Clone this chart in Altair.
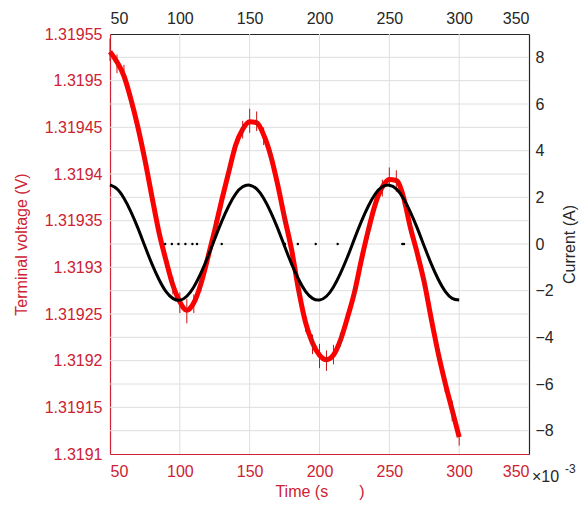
import altair as alt
import pandas as pd

# ---------------- data ----------------
time_ms = list(range(50, 301, 5))

voltage = [1.319531, 1.319520, 1.319505, 1.319480, 1.319450, 1.319415, 1.319376, 1.319338, 1.319308, 1.319281,
           1.319263, 1.319254, 1.319262, 1.319282, 1.319310, 1.319340, 1.319372, 1.319402, 1.319431, 1.319448,
           1.319456, 1.319455, 1.319442, 1.319420, 1.319389, 1.319353, 1.319319, 1.319276, 1.319241, 1.319219,
           1.319206, 1.319201, 1.319206, 1.319222, 1.319246, 1.319273, 1.319308, 1.319340, 1.319368, 1.319386,
           1.319394, 1.319393, 1.319376, 1.319343, 1.319315, 1.319284, 1.319245, 1.319208, 1.319176, 1.319147,
           1.319118]

current = [2.53, 2.36, 1.96, 1.38, 0.68, -0.10, -0.85, -1.51, -2.03, -2.33,
           -2.41, -2.24, -1.84, -1.26, -0.56, 0.22, 0.97, 1.63, 2.15, 2.45,
           2.52, 2.36, 1.96, 1.38, 0.68, -0.10, -0.85, -1.51, -2.03, -2.33,
           -2.40, -2.24, -1.84, -1.26, -0.56, 0.22, 0.97, 1.63, 2.15, 2.45,
           2.52, 2.36, 1.96, 1.38, 0.68, -0.10, -0.85, -1.51, -2.03, -2.33,
           -2.40]

# noise spikes above / below the voltage trace (micro-volts)
spike_up = [14, 8, 12, 6, 5, 9, 4, 6, 5, 8, 10, 12, 9, 7, 6, 10, 5, 7, 6, 9,
            14, 12, 8, 6, 5, 7, 6, 8, 5, 9, 12, 10, 11, 8, 6, 7, 9, 5, 6, 8,
            13, 11, 7, 6, 5, 8, 6, 9, 7, 10, 6]
spike_dn = [10, 12, 6, 8, 7, 5, 9, 6, 8, 10, 12, 14, 11, 8, 7, 5, 9, 6, 8, 10,
            12, 9, 11, 7, 6, 8, 9, 7, 10, 12, 14, 12, 10, 7, 8, 6, 5, 9, 7, 10,
            8, 12, 9, 7, 8, 6, 9, 8, 10, 12, 9]

dot_time = [89.5, 94.3, 99.0, 104.0, 109.0, 112.3, 130.0, 175.3, 184.5, 197.3, 213.0, 259.3, 260.5]
dot_current = [0] * len(dot_time)

x_ticks = [50, 100, 150, 200, 250, 300, 350]
v_grid = [round(1.3191 + k * 0.000025, 7) for k in range(19)]
i_ticks = [-8, -6, -4, -2, 0, 2, 4, 6, 8]

# ---------------- frames ----------------
df = pd.DataFrame({"t": time_ms, "v": voltage, "i": current, "up": spike_up, "dn": spike_dn})
df["lo"] = df["v"] - df["dn"] * 1e-6
df["hi"] = df["v"] + df["up"] * 1e-6
dots = pd.DataFrame({"t": dot_time, "i": dot_current})
xgrid_df = pd.DataFrame({"t": x_ticks[1:-1]})
vgrid_df = pd.DataFrame({"v": v_grid[1:-1]})

RED_TXT = "#cc2233"
BLK_TXT = "#262626"
GRID = "#dedede"
FONT = "Liberation Sans"

xs = alt.Scale(domain=[50, 350], nice=False, zero=False)
vs = alt.Scale(domain=[1.3191, 1.31955], nice=False, zero=False)
cs = alt.Scale(domain=[-9, 9], nice=False, zero=False)

bottom_axis = alt.Axis(orient="bottom", values=x_ticks, title="Time (s\u00a0\u00a0\u00a0\u00a0\u00a0\u00a0\u00a0)",
                       labelColor=RED_TXT, titleColor=RED_TXT, domainColor=RED_TXT, domainWidth=1.2, ticks=False,
                       grid=False, labelPadding=9, titlePadding=4,
                       labelFontSize=16, titleFontSize=16, titleFontWeight="normal", labelFont=FONT, titleFont=FONT)
top_axis = alt.Axis(orient="top", values=x_ticks, title=None, labelColor=BLK_TXT, domainColor="#262626",
                    domainWidth=1.2, ticks=False, grid=False, labelPadding=8, labelFontSize=16, labelFont=FONT)
left_axis = alt.Axis(orient="left", values=v_grid, title="Terminal voltage (V)",
                     labelExpr="abs(round(datum.value*1e6) % 50) < 1 ? format(datum.value, '.5~f') : ''",
                     labelColor=RED_TXT, titleColor=RED_TXT, domainColor=RED_TXT, domainWidth=1.2, ticks=False,
                     grid=False, labelPadding=8, titlePadding=15, labelOverlap=False,
                     labelFontSize=16, titleFontSize=16, titleFontWeight="normal", labelFont=FONT, titleFont=FONT)
right_axis = alt.Axis(orient="right", values=i_ticks, title="Current (A)", titleAngle=270,
                      labelColor=BLK_TXT, titleColor=BLK_TXT, domainColor="#262626", domainWidth=1.2,
                      ticks=False, grid=False,
                      labelPadding=6, titlePadding=24, labelFontSize=16, titleFontSize=16,
                      titleFontWeight="normal", labelFont=FONT, titleFont=FONT)

xgrid = alt.Chart(xgrid_df).mark_rule(color=GRID, strokeWidth=1).encode(
    x=alt.X("t:Q", scale=xs, axis=bottom_axis),
)
vgrid = alt.Chart(vgrid_df).mark_rule(color=GRID, strokeWidth=1).encode(
    y=alt.Y("v:Q", scale=vs, axis=left_axis),
)
volt_line = alt.Chart(df).mark_line(color="#ff0000", strokeWidth=5, interpolate="monotone").encode(
    x=alt.X("t:Q", scale=xs, axis=bottom_axis),
    y=alt.Y("v:Q", scale=vs, axis=left_axis),
)
spikes = alt.Chart(df).mark_rule(color="#c81414", strokeWidth=1).encode(
    x=alt.X("t:Q", scale=xs, axis=bottom_axis),
    y=alt.Y("lo:Q", scale=vs, axis=left_axis),
    y2="hi:Q",
)
volt = alt.layer(xgrid, vgrid, volt_line, spikes)

cur_line = alt.Chart(df).mark_line(color="#000000", strokeWidth=3, interpolate="natural").encode(
    x=alt.X("t:Q", scale=xs, axis=top_axis),
    y=alt.Y("i:Q", scale=cs, axis=right_axis),
)
cur_dots = alt.Chart(dots).mark_point(filled=True, color="#000000", size=6, opacity=1).encode(
    x=alt.X("t:Q", scale=xs, axis=top_axis),
    y=alt.Y("i:Q", scale=cs, axis=right_axis),
)
cur = alt.layer(cur_line, cur_dots)

exp_base = alt.Chart(pd.DataFrame({"s": ["\u00d710"]})).mark_text(
    align="left", baseline="middle", fontSize=16, font=FONT, color=BLK_TXT
).encode(x=alt.value(422), y=alt.value(443), text="s:N")
exp_pow = alt.Chart(pd.DataFrame({"s": ["-3"]})).mark_text(
    align="left", baseline="middle", fontSize=12, font=FONT, color=BLK_TXT
).encode(x=alt.value(455), y=alt.value(435), text="s:N")

chart = alt.layer(volt, cur, exp_base, exp_pow).resolve_scale(y="independent").resolve_axis(
    x="independent", y="independent"
).properties(
    width=419, height=420,
    autosize=alt.AutoSizeParams(type="none"),
    padding={"left": 102, "top": 26, "right": 51, "bottom": 48},
    background="white",
).configure_view(stroke=None)

chart.save("out.html", embed_options={"renderer": "svg", "actions": False})
